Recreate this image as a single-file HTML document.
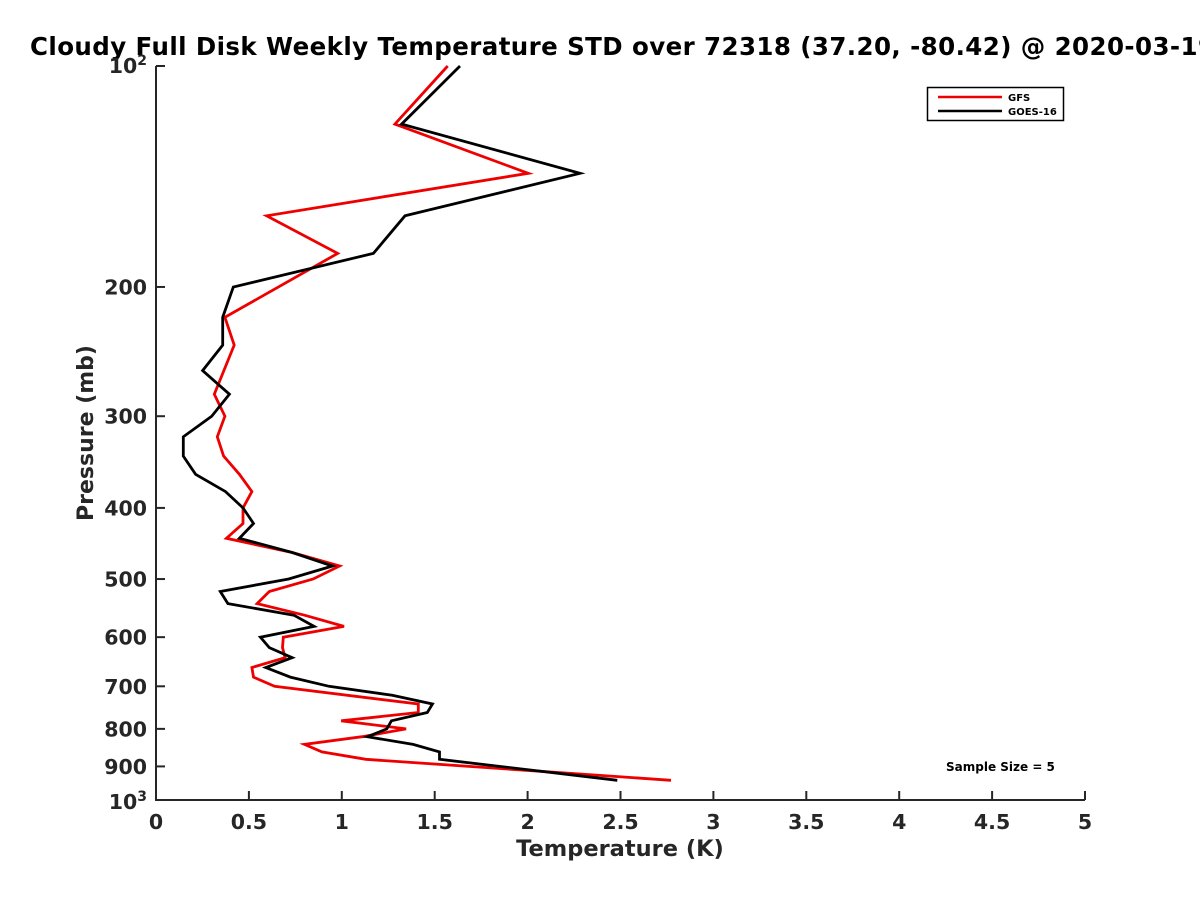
<!DOCTYPE html>
<html><head><meta charset="utf-8"><style>
html,body{margin:0;padding:0;background:#fff;width:1200px;height:900px;overflow:hidden}
svg text{font-family:"DejaVu Sans","Liberation Sans",sans-serif;font-weight:bold}
</style></head><body>
<svg id="chart" width="1200" height="900" viewBox="0 0 1200 900" xmlns="http://www.w3.org/2000/svg">
<text x="30" y="55" font-size="24.5" textLength="1185" lengthAdjust="spacing" fill="#000">Cloudy Full Disk Weekly Temperature STD over 72318 (37.20, -80.42) @ 2020-03-19</text>
<g id="axes"></g>
<g id="series"></g>
<text transform="translate(93,433) rotate(-90)" text-anchor="middle" font-size="22" fill="#262626">Pressure (mb)</text>
<text x="620" y="856" text-anchor="middle" font-size="22.5" fill="#262626">Temperature (K)</text>
<text x="946" y="771" font-size="12" fill="#000">Sample Size = 5</text>
<g>
<rect x="927.5" y="87.5" width="136" height="33" fill="#fff" stroke="#000" stroke-width="1.5"/>
<line x1="938" y1="97" x2="1002" y2="97" stroke="#e00" stroke-width="2.5"/>
<text x="1008" y="101" font-size="10">GFS</text>
<line x1="938" y1="111" x2="1002" y2="111" stroke="#000" stroke-width="2.5"/>
<text x="1008" y="115" font-size="10">GOES-16</text>
</g>
</svg>
<script>
const gfsPressure=[100,120,140,160,180,220,240,280,300,320,340,360,380,400,420,440,460,480,500,520,540,560,580,600,620,640,660,680,700,740,760,780,800,820,840,860,880,940];
const gfsTemp=[1.57,1.286,2.004,0.596,0.978,0.371,0.421,0.314,0.371,0.33,0.364,0.449,0.516,0.468,0.468,0.379,0.733,0.988,0.846,0.61,0.544,0.799,1.012,0.685,0.681,0.695,0.516,0.525,0.638,1.412,1.412,0.997,1.346,1.11,0.799,0.893,1.129,2.772];
const goesPressure=[100,120,140,160,180,200,220,240,260,280,300,320,340,360,380,400,420,440,460,480,500,520,540,560,580,600,620,640,660,680,700,720,740,760,780,800,820,840,860,880,940];
const goesTemp=[1.636,1.322,2.282,1.34,1.17,0.416,0.359,0.359,0.251,0.395,0.3,0.147,0.147,0.213,0.374,0.468,0.525,0.449,0.733,0.95,0.714,0.346,0.387,0.742,0.851,0.562,0.61,0.733,0.591,0.723,0.931,1.271,1.488,1.46,1.267,1.242,1.138,1.384,1.526,1.526,2.483];
const xTicks=[0,0.5,1,1.5,2,2.5,3,3.5,4,4.5,5];
const xTickLabels=["0","0.5","1","1.5","2","2.5","3","3.5","4","4.5","5"];
const yTicks=[200,300,400,500,600,700,800,900];

const X0=156,X1=1085,Y0=66,Y1=800;
const xs=v=>X0+(v-0)/(5-0)*(X1-X0);
const ys=p=>Y0+Math.log10(p/100)*(Y1-Y0);
const NS="http://www.w3.org/2000/svg";
const axes=document.getElementById('axes');
const series=document.getElementById('series');
function mk(tag,attrs,parent){const e=document.createElementNS(NS,tag);for(const k in attrs)e.setAttribute(k,attrs[k]);parent.appendChild(e);return e;}
const ax='#262626';
let l=mk('line',{x1:X0,y1:Y0,x2:X0,y2:Y1+1,stroke:ax,'stroke-width':2},axes);


l=mk('line',{x1:X0-1,y1:Y1,x2:X1,y2:Y1,stroke:ax,'stroke-width':2},axes);


xTicks.forEach((v,i)=>{
  const t=mk('line',{x1:xs(v),y1:Y1,x2:xs(v),y2:Y1-9,stroke:ax,'stroke-width':2},axes);
  
  
  const tx=mk('text',{x:xs(v),y:Y1+29,'text-anchor':'middle','font-size':20.5,fill:ax},axes);
  tx.textContent=xTickLabels[i];
  
  
});
[100,1000].concat(yTicks).forEach(p=>{
  const t=mk('line',{x1:X0,y1:ys(p),x2:X0+9,y2:ys(p),stroke:ax,'stroke-width':2},axes);
  
  
});
yTicks.forEach(p=>{
  const tx=mk('text',{x:X0-9,y:ys(p)+7.5,'text-anchor':'end','font-size':20.5,fill:ax},axes);
  tx.textContent=String(p);
  
  
});
[[100,'2'],[1000,'3']].forEach(([p,e])=>{
  const tx=mk('text',{x:X0-9,y:ys(p)+(p===100?7:9),'text-anchor':'end','font-size':20.5,fill:ax},axes);
  tx.innerHTML='10<tspan dy="-8" font-size="14">'+e+'</tspan>';
  
  
});
function drawLine(P,T,color,name){
  const pts=P.map((p,i)=>xs(T[i]).toFixed(1)+','+ys(p).toFixed(1)).join(' ');
  const pl=mk('polyline',{points:pts,fill:'none',stroke:color,'stroke-width':2.8,'stroke-linejoin':'miter'},series);
  
  
}
drawLine(gfsPressure,gfsTemp,'#e00','gfs-line');
drawLine(goesPressure,goesTemp,'#000','goes16-line');
</script>
</body></html>
